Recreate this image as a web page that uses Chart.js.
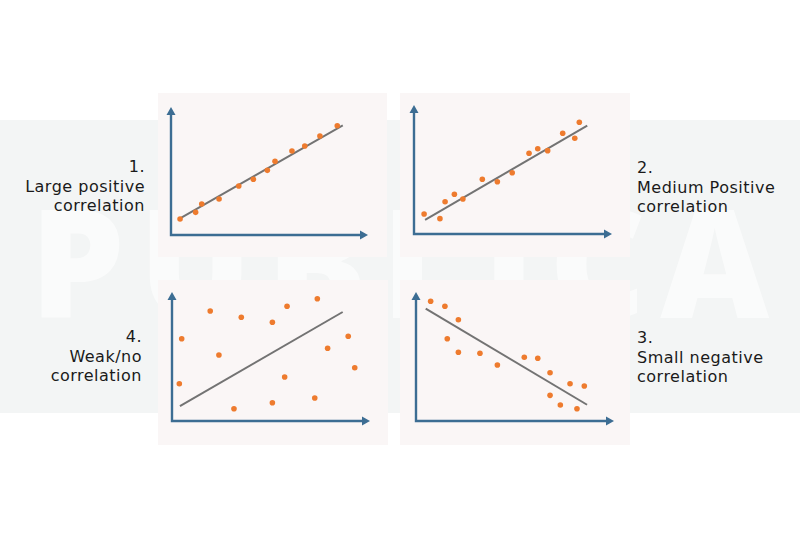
<!DOCTYPE html>
<html>
<head>
<meta charset="utf-8">
<script src="https://cdn.jsdelivr.net/npm/chart.js@4.4.1/dist/chart.umd.min.js"></script>
<style>
  html, body { margin:0; padding:0; background:#ffffff; }
  #wrap { position:relative; width:800px; height:533px; overflow:hidden; background:#ffffff; font-family:"DejaVu Sans", sans-serif; }
  #band { position:absolute; left:0; top:120px; width:800px; height:293px; background:#f3f5f5; }
  #wm { position:absolute; left:30px; top:180px; font-family:"Open Sans", sans-serif; font-weight:800; font-size:150px; line-height:160px; color:#ffffff; letter-spacing:14px; white-space:nowrap; opacity:0.6; }
  canvas.panel { position:absolute; background:#faf6f6; }
  .lbl { position:absolute; font-size:16px; letter-spacing:0.5px; line-height:19.5px; color:#1a1a1a; white-space:nowrap; }
  .r { text-align:right; }
</style>
</head>
<body>
<div id="wrap">
  <div id="band"></div>
  <div id="wm">PUBLICA</div>
  <canvas id="c1" class="panel" width="229" height="164" style="left:158px;top:93px;width:229px;height:164px"></canvas>
  <canvas id="c2" class="panel" width="230" height="164" style="left:400px;top:93px;width:230px;height:164px"></canvas>
  <canvas id="c3" class="panel" width="230" height="165" style="left:158px;top:280px;width:230px;height:165px"></canvas>
  <canvas id="c4" class="panel" width="230" height="165" style="left:400px;top:280px;width:230px;height:165px"></canvas>
  <div id="l1" class="lbl r" style="right:655px;top:157px"></div>
  <div id="l2" class="lbl" style="left:637px;top:158px"></div>
  <div id="l4" class="lbl r" style="right:658px;top:327px"></div>
  <div id="l3" class="lbl" style="left:637px;top:328px"></div>
</div>
<script>
// ---- Data (values in arbitrary 0-10 units) ----
const largePosX = [0.46, 1.25, 1.56, 2.44, 3.44, 4.18, 4.89, 5.28, 6.14, 6.79, 7.56, 8.44];
const largePosY = [1.25, 1.77, 2.42, 2.81, 3.83, 4.35, 5.05, 5.76, 6.56, 6.95, 7.73, 8.54];
const largePosTrendX = [0.46, 8.72];
const largePosTrendY = [1.30, 8.57];

const mediumPosX = [0.51, 1.31, 1.57, 2.04, 2.47, 3.45, 4.21, 4.96, 5.81, 6.25, 6.75, 7.51, 8.12, 8.35];
const mediumPosY = [1.55, 1.19, 2.50, 3.08, 2.71, 4.24, 4.05, 4.75, 6.26, 6.61, 6.46, 7.81, 7.42, 8.66];
const mediumPosTrendX = [0.56, 8.75];
const mediumPosTrendY = [1.09, 8.40];

const weakX = [0.49, 0.37, 1.93, 2.37, 3.13, 3.50, 5.07, 5.07, 5.69, 5.81, 7.21, 7.34, 7.86, 8.90, 9.23];
const weakY = [6.38, 2.89, 8.53, 5.12, 0.95, 8.04, 7.65, 1.42, 3.41, 8.89, 1.78, 9.48, 5.64, 6.57, 4.13];
const weakTrendX = [0.40, 8.62];
const weakTrendY = [1.16, 8.45];

const smallNegX = [0.74, 1.46, 2.14, 1.58, 2.14, 3.23, 4.11, 5.47, 6.15, 6.77, 7.78, 8.50, 6.77, 7.29, 8.13];
const smallNegY = [9.28, 8.89, 7.85, 6.38, 5.33, 5.25, 4.34, 4.94, 4.86, 3.74, 2.89, 2.71, 1.99, 1.24, 0.95];
const smallNegTrendX = [0.49, 8.64];
const smallNegTrendY = [8.71, 1.26];

const labels1 = ["1.", "Large positive", "correlation"];
const labels2 = ["2.", "Medium Positive", "correlation"];
const labels3 = ["3.", "Small negative", "correlation"];
const labels4 = ["4.", "Weak/no", "correlation"];

// ---- Text ----
function setLines(id, lines){ document.getElementById(id).innerHTML = lines.map(s => s.replace(/</g,'&lt;')).join('<br>'); }
setLines('l1', labels1); setLines('l2', labels2); setLines('l3', labels3); setLines('l4', labels4);

// ---- Axis with arrows plugin ----
const AXIS = '#3c6d93';
const arrowAxes = {
  id: 'arrowAxes',
  beforeDatasetsDraw(chart){
    const {ctx} = chart;
    const xs = chart.scales.x, ys = chart.scales.y;
    const x0 = xs.getPixelForValue(xs.min), x1 = xs.getPixelForValue(xs.max);
    const y0 = ys.getPixelForValue(ys.min), y1 = ys.getPixelForValue(ys.max);
    const L = 8, W = 4.5;
    ctx.save();
    ctx.strokeStyle = AXIS; ctx.fillStyle = AXIS; ctx.lineWidth = 2.4; ctx.lineCap = 'butt';
    ctx.beginPath();
    ctx.moveTo(x0, y1 + L - 1); ctx.lineTo(x0, y0); ctx.lineTo(x1 - L + 1, y0);
    ctx.stroke();
    ctx.beginPath(); ctx.moveTo(x0, y1); ctx.lineTo(x0 - W, y1 + L); ctx.lineTo(x0 + W, y1 + L); ctx.closePath(); ctx.fill();
    ctx.beginPath(); ctx.moveTo(x1, y0); ctx.lineTo(x1 - L, y0 - W); ctx.lineTo(x1 - L, y0 + W); ctx.closePath(); ctx.fill();
    ctx.restore();
  }
};

function pts(xs, ys){ return xs.map((x,i)=>({x:x, y:ys[i]})); }

function makeChart(id, px, py, tx, ty, pad){
  new Chart(document.getElementById(id), {
    type: 'scatter',
    data: {
      datasets: [
        { type:'line', data: pts(tx, ty), borderColor:'#737373', borderWidth:2, pointRadius:0, fill:false, order:2 },
        { data: pts(px, py), backgroundColor:'#ee7b2e', borderColor:'#ee7b2e', borderWidth:0, pointRadius:2.8, pointHoverRadius:2.8, order:1 }
      ]
    },
    options: {
      responsive:false, animation:false, devicePixelRatio:1,
      layout:{ padding: pad },
      clip:false,
      plugins:{ legend:{display:false}, tooltip:{enabled:false} },
      events: [],
      scales:{
        x:{ type:'linear', min:0, max:10, display:false },
        y:{ type:'linear', min:0, max:10, display:false }
      }
    },
    plugins:[arrowAxes]
  });
}

makeChart('c1', largePosX, largePosY, largePosTrendX, largePosTrendY, {left:13, top:14, right:19, bottom:22});
makeChart('c2', mediumPosX, mediumPosY, mediumPosTrendX, mediumPosTrendY, {left:14, top:12, right:18, bottom:23});
makeChart('c3', weakX, weakY, weakTrendX, weakTrendY, {left:14, top:12, right:18, bottom:24});
makeChart('c4', smallNegX, smallNegY, smallNegTrendX, smallNegTrendY, {left:16, top:12, right:16, bottom:24});
</script>
</body>
</html>
